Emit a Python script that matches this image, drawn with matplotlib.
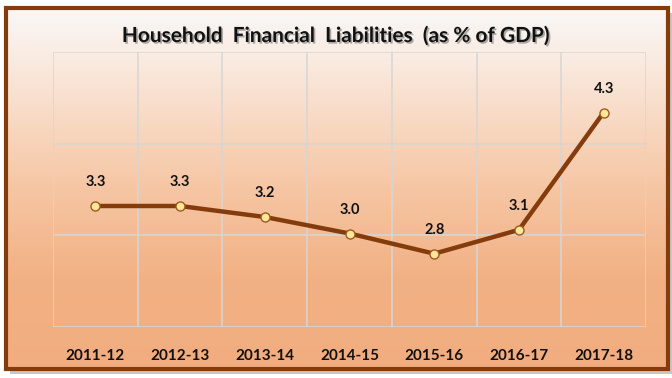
import numpy as np
import matplotlib.pyplot as plt
import matplotlib.patheffects as pe
from matplotlib.patches import Rectangle
from matplotlib.colors import LinearSegmentedColormap

# -----------------------
# Data
# -----------------------
years = ["2011-12", "2012-13", "2013-14", "2014-15", "2015-16", "2016-17", "2017-18"]
liabilities = [3.32, 3.32, 3.2, 3.02, 2.8, 3.06, 4.34]
value_labels = ["3.3", "3.3", "3.2", "3.0", "2.8", "3.1", "4.3"]

brown = "#843C0C"
marker_fill = "#FFE699"
font = "Lato"

fig = plt.figure(figsize=(6.72, 3.78), dpi=100)

# -----------------------
# Frame: shadow, gradient, border
# -----------------------
x0, x1 = 5.5 / 672, 667.5 / 672
y0, y1 = 1 - 369 / 378, 1 - 7.5 / 378

shadow = Rectangle((x0 + 0.006, y0 - 0.014), x1 - x0, y1 - y0,
                   transform=fig.transFigure, facecolor="#C8C8C8",
                   edgecolor="none", zorder=0)
fig.patches.append(shadow)

bg_ax = fig.add_axes([x0, y0, x1 - x0, y1 - y0], zorder=1)
cmap = LinearSegmentedColormap.from_list(
    "peach", [(0, "#F8F8F8"), (0.12, "#FAEDE4"), (0.5, "#F6C6A4"), (0.75, "#F2B184"), (1, "#F1AD80")])
grad = np.linspace(0, 1, 256).reshape(-1, 1)
bg_ax.imshow(grad, aspect="auto", cmap=cmap, extent=[0, 1, 0, 1], origin="upper")
bg_ax.set_xlim(0, 1)
bg_ax.set_ylim(0, 1)
bg_ax.axis("off")

border = Rectangle((x0, y0), x1 - x0, y1 - y0, transform=fig.transFigure,
                   facecolor="none", edgecolor=brown, linewidth=3, zorder=10)
fig.patches.append(border)

# -----------------------
# Plot area
# -----------------------
ax = fig.add_axes([53 / 672, 1 - 327 / 378, (646 - 53) / 672, (327 - 52) / 378], zorder=2)
ax.patch.set_alpha(0)

x = np.arange(len(years))
ax.plot(x, liabilities, color=brown, linewidth=3.2, marker="o", markersize=6.5,
        markerfacecolor=marker_fill, markeredgecolor="#9C5B1E", markeredgewidth=1.0,
        solid_capstyle="butt", zorder=3)

for xi, yi, lab in zip(x, liabilities, value_labels):
    ax.annotate(lab, (xi, yi), xytext=(0, 12), textcoords="offset points",
                ha="center", va="bottom", fontsize=10.5, fontweight="bold",
                family=font, color="#111111")

ax.set_xlim(-0.5, len(years) - 0.5)
ax.set_ylim(2, 5)
ax.set_yticks([2, 3, 4, 5])
ax.set_xticks(x)
ax.set_xticklabels(years, fontsize=11, fontweight="bold", family=font, color="#111111")
ax.set_xticks(np.arange(-0.5, len(years), 1), minor=True)
ax.tick_params(axis="x", which="both", length=0, pad=16)
ax.tick_params(axis="y", length=0, labelleft=False)
ax.grid(True, which="minor", axis="x", color="#D6D6D6", linewidth=1.1)
ax.grid(True, which="major", axis="y", color="#D6D6D6", linewidth=1.1)
for s in ax.spines.values():
    s.set_visible(False)

# -----------------------
# Title
# -----------------------
fig.text(0.5, 1 - 36 / 378, "Household  Financial  Liabilities  (as % of GDP)",
         ha="center", va="center", fontsize=15, fontweight="bold", family=font,
         color="#111111", zorder=20,
         path_effects=[pe.withSimplePatchShadow(offset=(1.2, -1.2), shadow_rgbFace="#777777", alpha=0.6)])

plt.savefig("out.png", dpi=100)
